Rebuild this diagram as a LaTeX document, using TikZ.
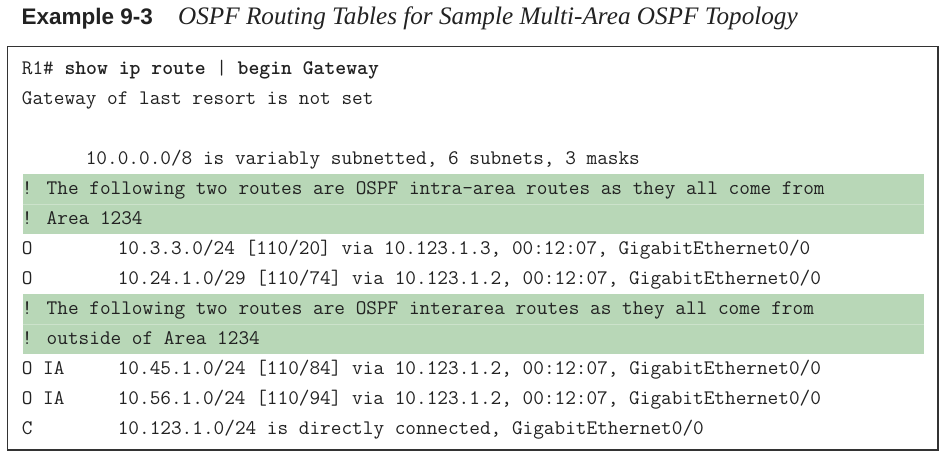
\documentclass[tikz,border=0pt]{standalone}
\usepackage{fontspec}
\newfontfamily\headsans{Liberation Sans}
\newfontfamily\headserif{Liberation Serif}
\definecolor{band}{HTML}{B8D7B7}
\definecolor{bandline}{HTML}{CCE2CB}
\definecolor{ink}{HTML}{222222}
\definecolor{frame}{HTML}{333333}
\begin{document}
\begin{tikzpicture}[x=1pt,y=-1pt,
  codeline/.style={anchor=base west, inner sep=0pt, font=\ttfamily\fontsize{20.69}{22}\selectfont, text=ink},
  bandfill/.style={fill=band},
  bandsep/.style={draw=bandline, line width=0.8pt},
  framebox/.style={draw=frame, line width=1.6pt}]
\useasboundingbox (0,0) rectangle (948,461);
% title
\node[anchor=base west, inner sep=0pt, text=ink, font=\headsans\bfseries\fontsize{22.5}{26}\selectfont] (ex) at (21.5,24) {Example 9-3};
\node[anchor=base west, inner sep=0pt, text=ink, font=\headserif\itshape\fontsize{25.2}{28}\selectfont] (ttl) at (178,24) {OSPF Routing Tables for Sample Multi-Area OSPF Topology};
% green bands
\fill[bandfill] (22.7,174) rectangle (924,233.5);
\draw[bandsep] (22.7,204) -- (924,204);
\fill[bandfill] (22.7,294) rectangle (924,354);
\draw[bandsep] (22.7,324) -- (924,324);
% frame
\draw[framebox] (7.3,46.5) rectangle (938,450);
% code lines
\node[codeline] (l0) at (21.7,74) {R1\# \textbf{show ip route} | \textbf{begin Gateway}};
\node[codeline] (l1) at (21.7,104) {Gateway of last resort is not set};
\node[codeline] (l3) at (21.7,164) {~~~~~~10.0.0.0/8 is variably subnetted, 6 subnets, 3 masks};
\node[codeline] (l4) at (21.7,194) {! The following two routes are OSPF intra-area routes as they all come from};
\node[codeline] (l5) at (21.7,224) {! Area 1234};
\node[codeline] (l6) at (21.7,254) {O~~~~~~~~10.3.3.0/24 [110/20] via 10.123.1.3, 00:12:07, GigabitEthernet0/0};
\node[codeline] (l7) at (21.7,284) {O~~~~~~~~10.24.1.0/29 [110/74] via 10.123.1.2, 00:12:07, GigabitEthernet0/0};
\node[codeline] (l8) at (21.7,314) {! The following two routes are OSPF interarea routes as they all come from};
\node[codeline] (l9) at (21.7,344) {! outside of Area 1234};
\node[codeline] (l10) at (21.7,374) {O IA~~~~~10.45.1.0/24 [110/84] via 10.123.1.2, 00:12:07, GigabitEthernet0/0};
\node[codeline] (l11) at (21.7,404) {O IA~~~~~10.56.1.0/24 [110/94] via 10.123.1.2, 00:12:07, GigabitEthernet0/0};
\node[codeline] (l12) at (21.7,434) {C~~~~~~~~10.123.1.0/24 is directly connected, GigabitEthernet0/0};
\end{tikzpicture}
\end{document}
